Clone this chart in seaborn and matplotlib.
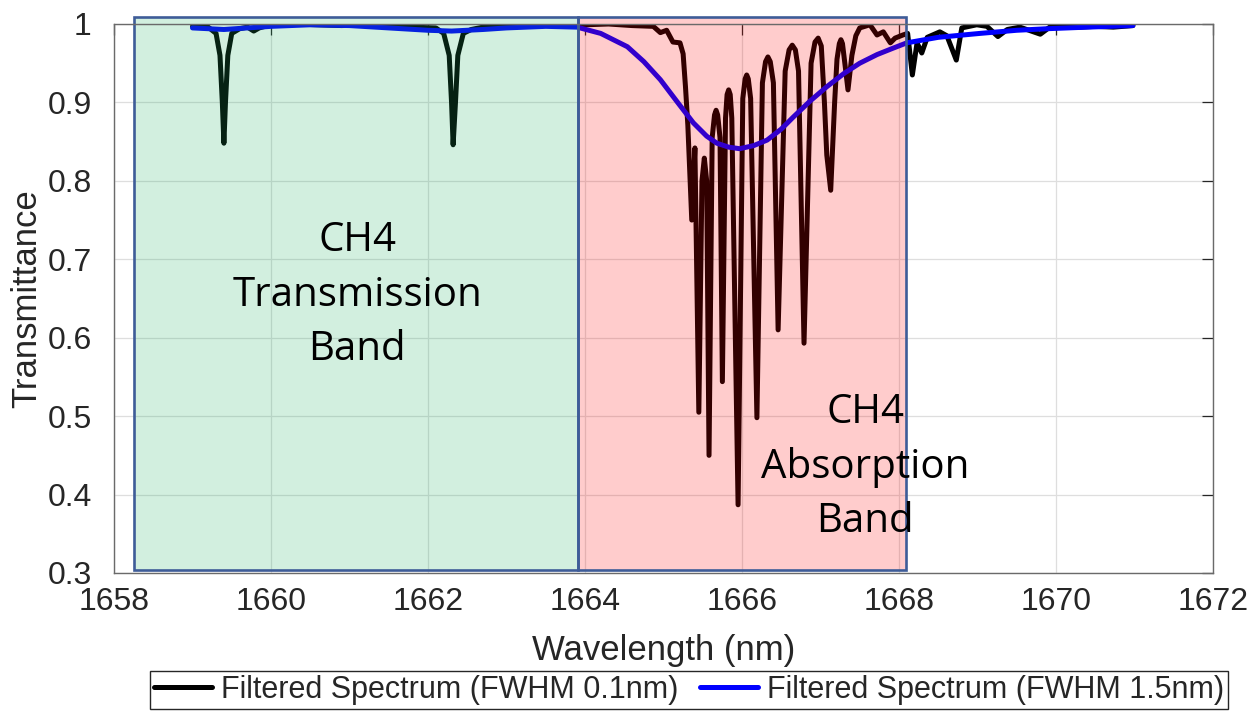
import matplotlib
matplotlib.use("Agg")
import matplotlib.pyplot as plt
from matplotlib.patches import Rectangle
import numpy as np
import pandas as pd
import seaborn as sns

# black spectrum (FWHM 0.1 nm) - vertices
wl_fine = [1659.00, 1659.10, 1659.20, 1659.30, 1659.35, 1659.38, 1659.40, 1659.42, 1659.45, 1659.50,
           1659.60, 1659.70, 1659.78, 1659.85, 1660.00, 1660.30, 1660.60, 1660.90, 1661.20, 1661.50,
           1661.80, 1662.10, 1662.20, 1662.27, 1662.30, 1662.32, 1662.35, 1662.38, 1662.45, 1662.55,
           1662.65, 1662.80, 1663.10, 1663.40, 1663.70, 1664.00, 1664.30, 1664.60, 1664.87, 1664.96,
           1665.04, 1665.12, 1665.21, 1665.25, 1665.28, 1665.31, 1665.36, 1665.40, 1665.45, 1665.49,
           1665.52, 1665.55, 1665.58, 1665.62, 1665.65, 1665.67, 1665.69, 1665.72, 1665.75, 1665.79,
           1665.81, 1665.83, 1665.85, 1665.87, 1665.95, 1666.01, 1666.04, 1666.06, 1666.08, 1666.11,
           1666.19, 1666.26, 1666.30, 1666.33, 1666.36, 1666.40, 1666.46, 1666.55, 1666.60, 1666.64,
           1666.68, 1666.72, 1666.79, 1666.88, 1666.93, 1666.97, 1667.01, 1667.05, 1667.08, 1667.13,
           1667.18, 1667.21, 1667.24, 1667.26, 1667.28, 1667.31, 1667.35, 1667.40, 1667.45, 1667.50,
           1667.63, 1667.72, 1667.80, 1667.89, 1667.95, 1668.05, 1668.11, 1668.17, 1668.23, 1668.29,
           1668.36, 1668.52, 1668.61, 1668.73, 1668.80, 1668.99, 1669.12, 1669.26, 1669.38, 1669.54,
           1669.80, 1669.96, 1670.31, 1670.50, 1670.73, 1670.98]
tr_fine = [0.997, 0.998, 0.996, 0.988, 0.960, 0.900, 0.848, 0.900, 0.960, 0.988,
           0.994, 0.996, 0.991, 0.995, 0.999, 1.000, 0.999, 0.998, 0.999, 0.997,
           0.996, 0.995, 0.988, 0.960, 0.900, 0.846, 0.900, 0.960, 0.988, 0.993,
           0.995, 0.998, 0.999, 0.998, 0.999, 0.999, 1.000, 0.998, 0.997, 0.989,
           0.992, 0.977, 0.976, 0.962, 0.920, 0.871, 0.750, 0.842, 0.505, 0.800,
           0.829, 0.800, 0.450, 0.855, 0.884, 0.890, 0.884, 0.855, 0.544, 0.880,
           0.910, 0.916, 0.910, 0.880, 0.387, 0.905, 0.930, 0.935, 0.930, 0.905,
           0.498, 0.925, 0.952, 0.958, 0.952, 0.925, 0.610, 0.940, 0.967, 0.973,
           0.967, 0.940, 0.593, 0.950, 0.977, 0.982, 0.972, 0.900, 0.833, 0.788,
           0.900, 0.955, 0.975, 0.980, 0.975, 0.950, 0.916, 0.960, 0.985, 0.995,
           0.999, 0.986, 0.990, 0.976, 0.982, 0.986, 0.988, 0.935, 0.976, 0.963,
           0.983, 0.990, 0.985, 0.954, 0.995, 0.999, 0.997, 0.984, 0.993, 0.996,
           0.987, 0.999, 0.996, 0.997, 0.996, 0.998]

# blue spectrum (FWHM 1.5 nm)
wl_broad = [1659.00, 1659.20, 1659.40, 1659.70, 1660.00, 1660.50, 1661.00, 1661.50, 1662.00, 1662.30,
            1662.70, 1663.00, 1663.50, 1663.90, 1664.20, 1664.54, 1664.75, 1664.96, 1665.18, 1665.38,
            1665.55, 1665.68, 1665.83, 1665.97, 1666.15, 1666.32, 1666.50, 1666.65, 1666.87, 1667.08,
            1667.30, 1667.50, 1667.72, 1667.92, 1668.10, 1668.50, 1669.03, 1669.50, 1669.89, 1670.40,
            1670.98]
tr_broad = [0.995, 0.994, 0.993, 0.995, 0.997, 0.999, 0.998, 0.995, 0.992, 0.991,
            0.993, 0.995, 0.997, 0.996, 0.988, 0.971, 0.952, 0.929, 0.900, 0.874,
            0.857, 0.848, 0.843, 0.841, 0.845, 0.852, 0.866, 0.881, 0.902, 0.920,
            0.937, 0.950, 0.961, 0.969, 0.976, 0.983, 0.988, 0.992, 0.994, 0.996,
            0.998]

bands = ["CH4\nTransmission\nBand", "CH4\nAbsorption\nBand"]
band_lo = [1658.25, 1663.91]
band_hi = [1663.91, 1668.09]
band_colors = [(0.12, 0.685, 0.39), (1.0, 0.0, 0.0)]
band_text_x = [1661.10, 1667.57]
band_text_y = [0.654, 0.435]

xticks = [1658, 1660, 1662, 1664, 1666, 1668, 1670, 1672]
yticks = [0.3, 0.4, 0.5, 0.6, 0.7, 0.8, 0.9, 1.0]
ytick_labels = ["0.3", "0.4", "0.5", "0.6", "0.7", "0.8", "0.9", "1"]

df_fine = pd.DataFrame({"wl": wl_fine, "T": tr_fine})
df_broad = pd.DataFrame({"wl": wl_broad, "T": tr_broad})

sns.set_theme(style="white")
plt.rcParams["font.family"] = ["Liberation Sans", "DejaVu Sans"]

fig = plt.figure(figsize=(12.53, 7.24), dpi=100)
ax = fig.add_axes([114 / 1253, 1 - 573 / 724, 1099 / 1253, 549 / 724])

sns.lineplot(data=df_fine, x="wl", y="T", color="black", lw=3.6, estimator=None,
             sort=False, label="Filtered Spectrum (FWHM 0.1nm)", ax=ax, zorder=3)
sns.lineplot(data=df_broad, x="wl", y="T", color="#0000ff", lw=3.6, estimator=None,
             sort=False, label="Filtered Spectrum (FWHM 1.5nm)", ax=ax, zorder=4)

# transparent band boxes drawn over the curves
for lo, hi, c in zip(band_lo, band_hi, band_colors):
    ax.add_patch(Rectangle((lo, 0.3038), hi - lo, 1.0089 - 0.3038, facecolor=c, alpha=0.2,
                           edgecolor="none", zorder=5, clip_on=False))
    ax.add_patch(Rectangle((lo, 0.3038), hi - lo, 1.0089 - 0.3038, facecolor="none",
                           edgecolor="#3e5c98", lw=1.9, zorder=6, clip_on=False))

for txt, tx, ty in zip(bands, band_text_x, band_text_y):
    ax.text(tx, ty, txt, ha="center", va="center", fontsize=29, family="Open Sans",
            color="black", linespacing=1.45, zorder=7)

ax.set_xlim(1658, 1672)
ax.set_ylim(0.3, 1.0)
ax.set_xticks(xticks)
ax.set_yticks(yticks)
ax.set_yticklabels(ytick_labels)
ax.grid(True, color="#dedede", lw=0.9)
ax.set_axisbelow(True)
ax.tick_params(direction="in", length=8, width=0.9, color="#262626", labelsize=23,
               labelcolor="#262626", top=True, right=True)
ax.tick_params(axis="x", pad=10)
ax.tick_params(axis="y", pad=16)
for s in ax.spines.values():
    s.set_color("#6a6a6a")
    s.set_linewidth(1.0)
    s.set_zorder(8)
ax.set_xlabel("Wavelength (nm)", fontsize=25, color="#262626")
ax.set_ylabel("Transmittance", fontsize=25, color="#262626")
ax.xaxis.set_label_coords(0.5, -0.112)
ax.yaxis.set_label_coords(-0.064, 0.5)

handles, labels = ax.get_legend_handles_labels()
ax.get_legend().remove()
leg = fig.legend(handles, labels, loc="center", bbox_to_anchor=(689 / 1253, 1 - 690 / 724),
                 ncol=2, frameon=True, fancybox=False, edgecolor="#262626", framealpha=1,
                 prop={"size": 22}, handlelength=1.9, handletextpad=0.3, columnspacing=0.7,
                 borderpad=0.12, borderaxespad=0)
leg.get_frame().set_linewidth(1.0)

fig.savefig("out.png", dpi=100)
